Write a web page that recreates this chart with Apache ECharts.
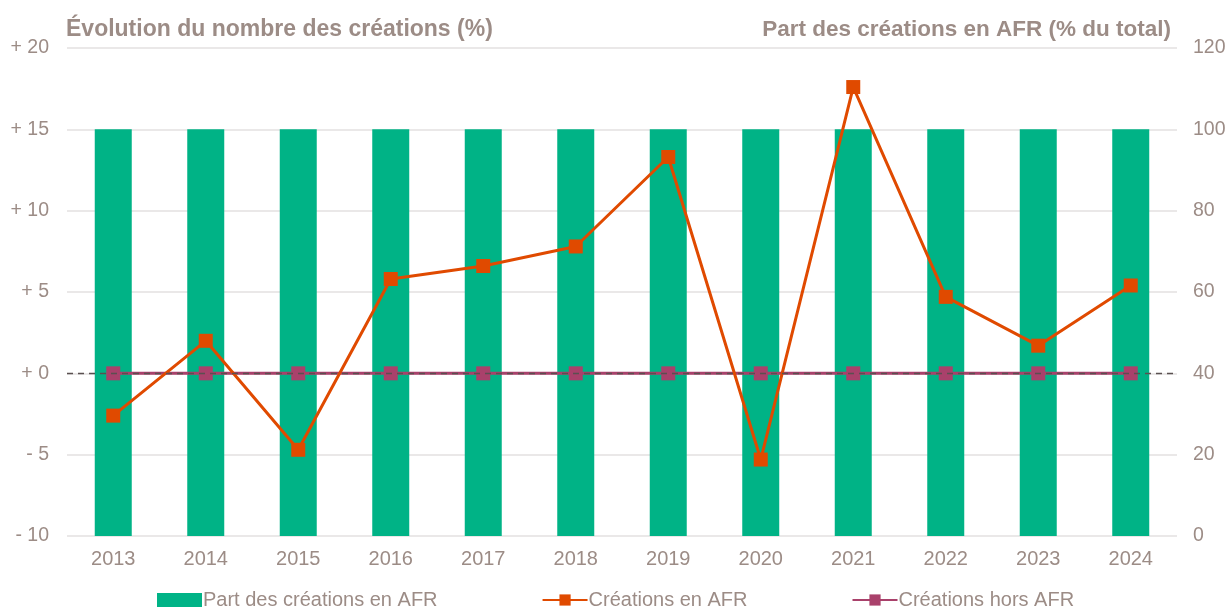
<!DOCTYPE html>
<html>
<head>
<meta charset="utf-8">
<script src="https://cdn.jsdelivr.net/npm/echarts@6/dist/echarts.min.js"></script>
<style>
html,body{margin:0;padding:0;background:#fff;}
#c{width:1232px;height:609px;}
</style>
</head>
<body>
<div id="c"></div>
<script>
const years = ['2013','2014','2015','2016','2017','2018','2019','2020','2021','2022','2023','2024'];
const partAFR = [100,100,100,100,100,100,100,100,100,100,100,100];
const creationsAFR = [-2.6,2.0,-4.7,5.8,6.6,7.8,13.3,-5.3,17.6,4.7,1.7,5.4];
const creationsHorsAFR = [0,0,0,0,0,0,0,0,0,0,0,0];
const leftTitle = 'Évolution du nombre des créations (%)';
const rightTitle = 'Part des créations en AFR (% du total)';

const txt = '#9c8c86';
const font = 'Liberation Sans, Arial, sans-serif';
const chart = echarts.init(document.getElementById('c'));
chart.setOption({
  animation:false,
  textStyle:{fontFamily:font},
  title:[
    {text:leftTitle,left:61,top:13,textStyle:{fontFamily:font,fontSize:23,fontWeight:'bold',color:txt}},
    {text:rightTitle,right:56,top:13,textStyle:{fontFamily:font,fontSize:22.5,fontWeight:'bold',color:txt}}
  ],
  grid:{left:67,right:55,top:48,bottom:73},
  legend:{
    bottom:-6,left:152,itemGap:104,itemWidth:45,itemHeight:14,
    textStyle:{fontFamily:font,fontSize:20,color:txt,padding:[0,0,0,-4]},
    data:[
      {name:'Part des créations en AFR',icon:'rect'},
      {name:'Créations en AFR'},
      {name:'Créations hors AFR'}
    ]
  },
  xAxis:{
    type:'category',data:years,
    axisLine:{show:false},axisTick:{show:false},
    axisLabel:{color:txt,fontSize:20,margin:13,fontFamily:font}
  },
  yAxis:[
    {type:'value',min:-10,max:20,interval:5,
     axisLine:{show:false},axisTick:{show:false},
     splitLine:{lineStyle:{color:'#e3e0e0',width:1.5}},
     axisLabel:{color:txt,fontSize:19.5,margin:18,fontFamily:font,
       formatter:v=> v<0 ? '- '+Math.abs(v) : '+ '+v}},
    {type:'value',min:0,max:120,interval:20,
     axisLine:{show:false},axisTick:{show:false},splitLine:{show:false},
     axisLabel:{color:txt,fontSize:19.5,margin:16,fontFamily:font}}
  ],
  series:[
    {name:'Part des créations en AFR',type:'bar',yAxisIndex:1,data:partAFR,
     barWidth:'40%',itemStyle:{color:'#00b386'},z:1,
     markLine:{silent:true,symbol:'none',label:{show:false},
       lineStyle:{color:'#5a5050',type:[6,5],width:1.4},
       data:[[{coord:[-0.5,40],x:67},{coord:[11.5,40],x:1177}]]}},
    {name:'Créations en AFR',type:'line',data:creationsAFR,
     symbol:'rect',symbolSize:14,
     lineStyle:{color:'#e04a00',width:3},itemStyle:{color:'#e04a00'},z:4},
    {name:'Créations hors AFR',type:'line',data:creationsHorsAFR,
     symbol:'rect',symbolSize:14,
     lineStyle:{color:'#a9416b',width:3},itemStyle:{color:'#a9416b'},z:3}
  ]
});
</script>
</body>
</html>
